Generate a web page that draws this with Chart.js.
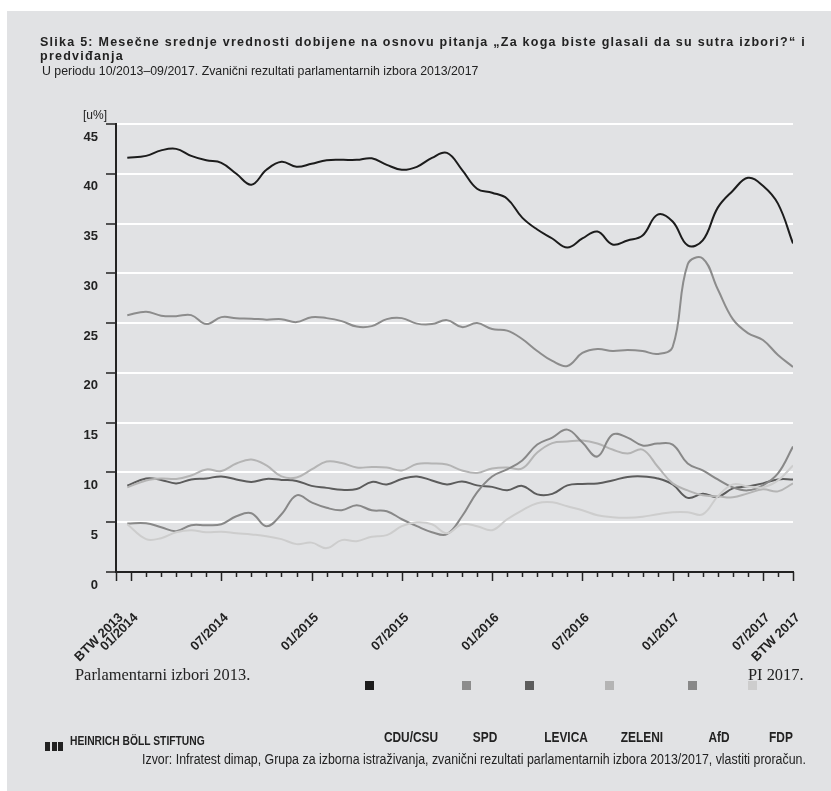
<!DOCTYPE html>
<html>
<head>
<meta charset="utf-8">
<script src="https://cdn.jsdelivr.net/npm/chart.js@4.4.1/dist/chart.umd.min.js"></script>
<style>
  body { margin: 0; background: #fff; width: 831px; height: 791px; overflow: hidden; position: relative; }
  #panel { position: absolute; left: 7px; top: 11px; width: 824px; height: 780px; background: #e1e2e4; }
  #chart-wrap { position: absolute; left: 0; top: 0; width: 831px; height: 791px; }
  .txt { position: absolute; white-space: nowrap; color: #222; font-family: 'Liberation Sans', Arial, sans-serif; }
  .narrow { transform-origin: 0 50%; }
  #title { left: 40px; top: 35px; font-weight: bold; font-size: 12.5px; line-height: 14px; letter-spacing: 1.25px; }
  #subtitle { left: 42px; top: 64px; font-size: 13px; line-height: 14px; }
  #unit { left: 83px; top: 108px; font-size: 12px; }
  .serif { font: 16.4px 'Liberation Serif', 'Times New Roman', serif; top: 665px; }
  .sq { position: absolute; width: 9px; height: 9px; top: 681px; }
  .lg { position: absolute; top: 730px; font-weight: bold; font-size: 14px; line-height: 15px; transform: translateX(-50%) scaleX(0.85); }
  #logo-bars { position: absolute; left: 45px; top: 737px; }
  #logo-bars i { display: inline-block; width: 5px; height: 9px; background: #222; margin-right: 1.5px; }
  #logo { left: 70px; top: 734px; font-weight: bold; font-size: 12.5px; line-height: 14px; }
  #source { left: 142px; top: 752px; font-size: 14px; line-height: 14px; }
</style>
</head>
<body>
<div id="panel"></div>
<div id="chart-wrap"><canvas id="poll-chart"></canvas></div>

<div id="title" class="txt">Slika 5: Mesečne srednje vrednosti dobijene na osnovu pitanja „Za koga biste glasali da su sutra izbori?“ i<br>predviđanja</div>
<div id="subtitle" class="txt narrow" data-w="436">U periodu 10/2013–09/2017. Zvanični rezultati parlamentarnih izbora 2013/2017</div>
<div id="unit" class="txt">[u%]</div>
<div class="txt serif" style="left:75px">Parlamentarni izbori 2013.</div>
<div class="txt serif" style="left:748px">PI 2017.</div>
<div id="legend"></div>
<div id="logo-bars"><i></i><i></i><i></i></div>
<div id="logo" class="txt narrow" data-w="135">HEINRICH BÖLL STIFTUNG</div>
<div id="source" class="txt narrow" data-w="664">Izvor: Infratest dimap, Grupa za izborna istraživanja, zvanični rezultati parlamentarnih izbora 2013/2017, vlastiti proračun.</div>

<script>
// x = months after 12/2013 (first point = BTW 2013 result)
const monthIdx = [0.75, 2, 3, 4, 5, 6, 7, 8, 9, 10, 11, 12, 13, 14, 15, 16, 17, 18, 19, 20, 21, 22, 23,
    24, 25, 26, 27, 28, 29, 30, 31, 32, 33, 34, 35, 36, 37, 38, 39, 40, 41, 42, 43, 44, 45];

const cduCsu = [41.6, 41.8, 42.35, 42.5, 41.8, 41.35, 41.1, 40.0, 38.9, 40.4, 41.2, 40.7, 41.0, 41.35, 41.4,
    41.4, 41.55, 40.9, 40.4, 40.7, 41.6, 42.1, 40.4, 38.5, 38.1, 37.5, 35.6, 34.4, 33.5, 32.6, 33.5, 34.2,
    32.9, 33.3, 33.8, 35.9, 35.2, 32.8, 33.3, 36.6, 38.3, 39.6, 38.8, 37.0, 33.0];
const spd = [25.8, 26.15, 25.75, 25.7, 25.8, 24.9, 25.6, 25.5, 25.45, 25.35, 25.4, 25.1, 25.6, 25.5, 25.2,
    24.65, 24.7, 25.4, 25.5, 24.95, 24.9, 25.3, 24.6, 25.0, 24.4, 24.25, 23.4, 22.2, 21.2, 20.7, 22.0, 22.4,
    22.2, 22.3, 22.2, 21.9, 22.6, 30.9, 31.5, 28.4, 25.4, 24.0, 23.3, 21.8, 20.6];
const levica = [8.67, 9.4, 9.25, 8.9, 9.3, 9.4, 9.6, 9.3, 9.05, 9.35, 9.25, 9.15, 8.65, 8.45, 8.25,
    8.33, 9.05, 8.8, 9.35, 9.6, 9.2, 8.8, 9.1, 8.7, 8.55, 8.2, 8.65, 7.8, 7.85, 8.7, 8.85, 8.9,
    9.2, 9.55, 9.6, 9.4, 8.8, 7.45, 7.85, 7.55, 8.4, 8.6, 8.9, 9.3, 9.3];
const zeleni = [8.5, 9.2, 9.4, 9.35, 9.7, 10.3, 10.15, 10.9, 11.3, 10.7, 9.6, 9.5, 10.3, 11.1, 10.95,
    10.5, 10.55, 10.5, 10.2, 10.85, 10.9, 10.8, 10.2, 9.95, 10.4, 10.5, 10.4, 12.0, 12.95, 13.1, 13.2, 12.9,
    12.3, 11.9, 12.3, 10.6, 8.9, 8.2, 7.7, 7.6, 7.5, 7.9, 8.3, 8.1, 8.9];
const afd = [4.87, 4.9, 4.5, 4.1, 4.7, 4.7, 4.8, 5.6, 5.9, 4.6, 5.8, 7.7, 7.0, 6.45, 6.2,
    6.7, 6.2, 6.1, 5.3, 4.6, 4.0, 3.8, 5.6, 8.0, 9.6, 10.3, 11.2, 12.8, 13.5, 14.3, 13.0, 11.6,
    13.8, 13.5, 12.7, 12.9, 12.8, 10.9, 10.2, 9.3, 8.5, 8.2, 8.7, 9.9, 12.6];
const fdp = [4.8, 3.3, 3.4, 4.0, 4.2, 4.0, 4.05, 3.9, 3.77, 3.6, 3.3, 2.8, 2.95, 2.4, 3.2,
    3.1, 3.55, 3.7, 4.6, 5.0, 4.8, 3.9, 4.8, 4.6, 4.2, 5.3, 6.2, 6.9, 7.0, 6.6, 6.2, 5.7,
    5.5, 5.45, 5.55, 5.8, 6.0, 6.0, 5.8, 7.6, 8.8, 8.6, 8.5, 9.2, 10.7];

const partyNames = ['CDU/CSU', 'SPD', 'LEVICA', 'ZELENI', 'AfD', 'FDP'];
const partyValues = [cduCsu, spd, levica, zeleni, afd, fdp];
const partyColors = ['#1c1c1c', '#8c8c8c', '#5c5c5c', '#b4b4b4', '#888888', '#cdcdcd'];

const tickLabels = { 0: 'BTW 2013', 1: '01/2014', 7: '07/2014', 13: '01/2015', 19: '07/2015',
    25: '01/2016', 31: '07/2016', 37: '01/2017', 43: '07/2017', 45: 'BTW 2017' };

// legend is laid out loosely in the original, squares and names apart
const legendSquareX = [365, 462, 525, 605, 688, 748];
const legendLabelX = [411, 485, 566, 642, 719, 781];

const legendEl = document.getElementById('legend');
partyNames.forEach((name, i) => {
    legendEl.insertAdjacentHTML('beforeend',
        `<div class="sq" style="left:${legendSquareX[i]}px;background:${partyColors[i]}"></div>` +
        `<div class="lg txt" style="left:${legendLabelX[i]}px">${name}</div>`);
});

// the original uses a condensed face; squeeze the regular one to the same width
document.querySelectorAll('.narrow').forEach(el => {
    el.style.transform = `scaleX(${(+el.dataset.w / el.offsetWidth).toFixed(3)})`;
});

// month tick marks under the x axis, long ones where a label sits
const monthTicks = {
    id: 'monthTicks',
    afterDraw(chart) {
        const { ctx, scales: { x } } = chart;
        const base = chart.chartArea.bottom;
        ctx.save();
        ctx.strokeStyle = '#222';
        ctx.lineWidth = 1.5;
        for (let m = 0; m <= 45; m++) {
            const px = Math.round(x.getPixelForValue(m)) + 0.5;
            const len = tickLabels[m] ? 9 : 5;
            ctx.beginPath();
            ctx.moveTo(px, base);
            ctx.lineTo(px, base + len);
            ctx.stroke();
        }
        ctx.restore();
    }
};

new Chart(document.getElementById('poll-chart').getContext('2d'), {
    type: 'line',
    data: {
        datasets: partyNames.map((name, i) => ({
            label: name,
            data: partyValues[i].map((v, k) => ({ x: monthIdx[k], y: v })),
            borderColor: partyColors[i],
            borderWidth: 2,
            pointRadius: 0,
            tension: 0.4,
            fill: false
        })).reverse()
    },
    options: {
        responsive: true,
        maintainAspectRatio: false,
        animation: false,
        layout: { padding: { top: 124, right: 38, bottom: 119, left: 0 } },
        plugins: { legend: { display: false }, tooltip: { enabled: false } },
        scales: {
            x: {
                type: 'linear',
                min: 0,
                max: 45,
                afterFit: s => { s.height = 100; s.paddingLeft = 0; s.paddingRight = 0; },
                afterBuildTicks: s => { s.ticks = Object.keys(tickLabels).map(k => ({ value: +k })); },
                ticks: {
                    autoSkip: false,
                    minRotation: 45,
                    maxRotation: 45,
                    padding: 38,
                    labelOffset: 5,
                    color: '#222',
                    font: { family: 'Liberation Sans, Arial, sans-serif', weight: 'bold', size: 13 },
                    callback: v => tickLabels[v] || ''
                },
                grid: { drawOnChartArea: false, drawTicks: false },
                border: { display: true, color: '#222', width: 2 }
            },
            y: {
                min: 0,
                max: 45,
                afterFit: s => { s.width = 116; },
                ticks: {
                    stepSize: 5,
                    labelOffset: 13,
                    padding: 8,
                    color: '#222',
                    font: { family: 'Liberation Sans, Arial, sans-serif', weight: 'bold', size: 13 }
                },
                grid: {
                    color: c => c.tick && c.tick.value === 0 ? 'rgba(0,0,0,0)' : '#ffffff',
                    lineWidth: 2,
                    drawTicks: true,
                    tickLength: 10,
                    tickColor: '#222',
                    tickWidth: 1.5
                },
                border: { display: true, color: '#222', width: 2 }
            }
        }
    },
    plugins: [monthTicks]
});
</script>
</body>
</html>
